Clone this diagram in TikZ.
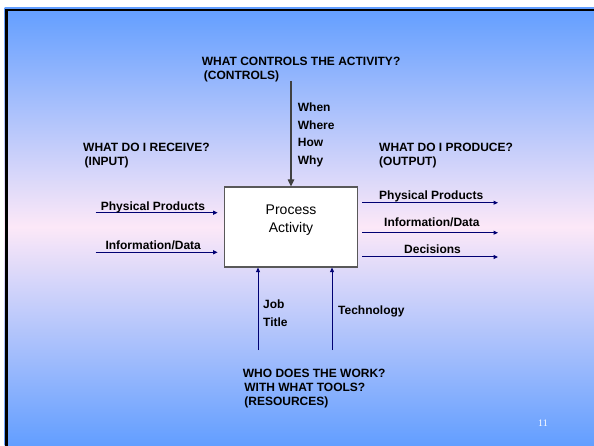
\documentclass[tikz,border=0pt]{standalone}
\usepackage{fontspec}
\setmainfont{Liberation Sans}
\newfontfamily\pagenofont{Liberation Serif}
\usetikzlibrary{arrows.meta}

\definecolor{slideblue}{RGB}{98,158,255}
\definecolor{slidepink}{RGB}{252,232,248}
\colorlet{flow}{blue!45!black}
\colorlet{ctrl}{black!75}
\colorlet{boxline}{black!65}

\begin{document}
\begin{tikzpicture}[x=1pt, y=-1pt,
  lbl/.style={font=\fontsize{12}{14}\selectfont\bfseries, inner sep=0pt, align=left},
  wlbl/.style={font=\fontsize{12}{17.7}\selectfont\bfseries, inner sep=0pt, align=left},
  flowarrow/.style={draw=flow, line width=1pt, -{Triangle[length=4.5pt, width=4pt]}},
  ctrlarrow/.style={draw=ctrl, line width=1.2pt, -{Triangle[length=7pt, width=6.5pt]}}]
  \useasboundingbox (0,0) rectangle (594,446);
  % slide background
  \fill[white] (0,0) rectangle (594,446);
  \shade[top color=slideblue, bottom color=slideblue, middle color=slidepink] (4.5,7.5) rectangle (594,446);
  \draw[line width=2.5pt, black] (6.7,446) -- (6.7,9.9) -- (594,9.9);

  % the activity box
  \node[draw=boxline, fill=white, line width=1.2pt, minimum width=133pt, minimum height=80pt, inner sep=0pt] (proc) at (291,227) {};
  \node[font=\fontsize{14}{18}\selectfont, align=center, inner sep=0pt, anchor=base] (proctext) at (291,233) {Process\\Activity};

  % controls (base = last line)
  \node[lbl, anchor=base west] (ctrlq) at (201.7,79.5) {WHAT CONTROLS THE ACTIVITY?\\\hspace*{2pt}(CONTROLS)};
  \coordinate (ctrltop) at (291,81);
  \draw[ctrlarrow] (ctrltop) -- (proc.north);
  \node[wlbl, anchor=base west] (ctrlw) at (297.7,164.6) {When\\Where\\How\\Why};

  % inputs
  \node[lbl, anchor=base west] (inq) at (83,166) {WHAT DO I RECEIVE?\\\hspace*{1.5pt}(INPUT)};
  \coordinate (in1) at (95.7,212.7);
  \coordinate (in2) at (95.7,252.3);
  \draw[flowarrow, shorten >=6.3pt] (in1) -- (in1 -| proc.west);
  \draw[flowarrow, shorten >=6.3pt] (in2) -- (in2 -| proc.west);
  \node[lbl, anchor=base west] (inpp) at (100.7,210.5) {Physical Products};
  \node[lbl, anchor=base west] (inid) at (105.3,250) {Information/Data};

  % outputs
  \node[lbl, anchor=base west] (outq) at (379,166) {WHAT DO I PRODUCE?\\(OUTPUT)};
  \coordinate (out1) at (498,202.7);
  \coordinate (out2) at (498,232.7);
  \coordinate (out3) at (498,257);
  \draw[flowarrow, shorten <=4.2pt] (out1 -| proc.east) -- (out1);
  \draw[flowarrow, shorten <=4.2pt] (out2 -| proc.east) -- (out2);
  \draw[flowarrow, shorten <=4.2pt] (out3 -| proc.east) -- (out3);
  \node[lbl, anchor=base west] (outpp) at (379,200) {Physical Products};
  \node[lbl, anchor=base west] (outid) at (384,226.7) {Information/Data};
  \node[lbl, anchor=base west] (outdc) at (404,254) {Decisions};

  % resources
  \coordinate (res1) at (258,350);
  \coordinate (res2) at (332,350);
  \draw[flowarrow] (res1) -- (res1 |- proc.south);
  \draw[flowarrow] (res2) -- (res2 |- proc.south);
  \node[wlbl, anchor=base west] (resjob) at (263,326.5) {Job\\Title};
  \node[lbl, anchor=base west] (restech) at (338,314) {Technology};
  \node[lbl, anchor=base west] (resq) at (242.7,405.7) {WHO DOES THE WORK?\\\hspace*{1.5pt}WITH WHAT TOOLS?\\\hspace*{1.5pt}(RESOURCES)};

  % page number
  \node[font=\pagenofont\fontsize{10}{12}\selectfont, text=white, inner sep=0pt, anchor=base] (pageno) at (543,426) {11};
\end{tikzpicture}
\end{document}
